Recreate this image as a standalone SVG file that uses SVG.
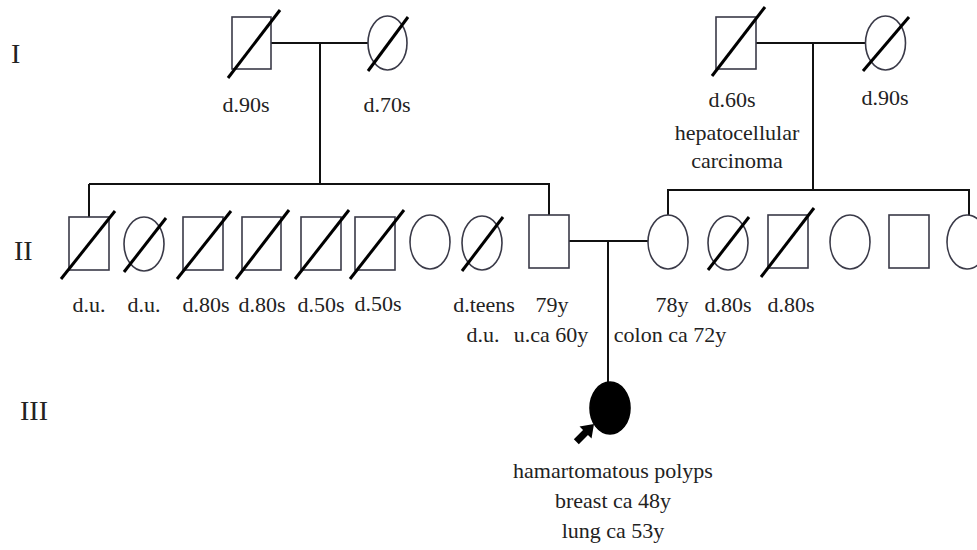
<svg xmlns="http://www.w3.org/2000/svg" width="977" height="550" viewBox="0 0 977 550">
<style>
.sym{fill:#fff;stroke:#3a3a48;stroke-width:1.6}
.aff{fill:#000;stroke:#000;stroke-width:1.6}
.dead{stroke:#000;stroke-width:3;stroke-linecap:butt}
.con{stroke:#111;stroke-width:2;fill:none}
text{font-family:"Liberation Serif","Times New Roman",serif;font-size:22px;fill:#222;text-anchor:middle}
.gen{font-size:28px;text-anchor:start}
</style>
<rect width="977" height="550" fill="#fff"/>
<g id="generations">
<text class="gen" x="11" y="63">I</text>
<text class="gen" x="14" y="260">II</text>
<text class="gen" x="20" y="420">III</text>
</g>
<g id="connectors">
<line class="con" x1="271" y1="43" x2="368" y2="43"/>
<line class="con" x1="320" y1="43" x2="320" y2="184"/>
<line class="con" x1="89" y1="184" x2="549" y2="184"/>
<line class="con" x1="89" y1="184" x2="89" y2="217"/>
<line class="con" x1="549" y1="183" x2="549" y2="215"/>
<line class="con" x1="756" y1="43" x2="865" y2="43"/>
<line class="con" x1="813" y1="43" x2="813" y2="190"/>
<line class="con" x1="668" y1="190" x2="969" y2="190"/>
<line class="con" x1="668" y1="189" x2="668" y2="215"/>
<line class="con" x1="969" y1="189" x2="969" y2="215"/>
<line class="con" x1="569" y1="241" x2="648" y2="241"/>
<line class="con" x1="608" y1="241" x2="608" y2="382"/>
</g>
<g id="I-1"><rect class="sym" x="232" y="17" width="39" height="52"/><line class="dead" x1="228" y1="78" x2="280" y2="10"/><text x="246" y="112">d.90s</text></g>
<g id="I-2"><ellipse class="sym" cx="387.5" cy="43" rx="19.5" ry="27"/><line class="dead" x1="368" y1="71" x2="408" y2="17"/><text x="387" y="112">d.70s</text></g>
<g id="I-3"><rect class="sym" x="716" y="17" width="40" height="52"/><line class="dead" x1="712" y1="76" x2="765" y2="7"/><text x="732" y="107">d.60s</text><text x="737" y="140">hepatocellular</text><text x="737" y="168">carcinoma</text></g>
<g id="I-4"><ellipse class="sym" cx="885.5" cy="43" rx="20" ry="27"/><line class="dead" x1="863" y1="71" x2="909" y2="17"/><text x="885" y="105">d.90s</text></g>
<g id="II-1"><rect class="sym" x="69" y="217" width="40" height="53"/><line class="dead" x1="61" y1="279" x2="115" y2="211"/><text x="89" y="312">d.u.</text></g>
<g id="II-2"><ellipse class="sym" cx="144" cy="244" rx="20" ry="27"/><line class="dead" x1="124" y1="272" x2="166" y2="218"/><text x="144" y="312">d.u.</text></g>
<g id="II-3"><rect class="sym" x="183" y="217" width="40" height="53"/><line class="dead" x1="177" y1="279" x2="231" y2="211"/><text x="206" y="312">d.80s</text></g>
<g id="II-4"><rect class="sym" x="242" y="217" width="39" height="53"/><line class="dead" x1="236" y1="279" x2="289" y2="210"/><text x="262" y="312">d.80s</text></g>
<g id="II-5"><rect class="sym" x="301" y="217" width="40" height="53"/><line class="dead" x1="295" y1="279" x2="349" y2="210"/><text x="321" y="312">d.50s</text></g>
<g id="II-6"><rect class="sym" x="355" y="217" width="40" height="53"/><line class="dead" x1="350" y1="279" x2="404" y2="210"/><text x="378" y="311">d.50s</text></g>
<g id="II-7"><ellipse class="sym" cx="430" cy="242" rx="20" ry="27"/></g>
<g id="II-8"><ellipse class="sym" cx="482" cy="243" rx="20" ry="27"/><line class="dead" x1="462" y1="271" x2="503" y2="217"/><text x="484" y="312">d.teens</text><text x="483" y="342">d.u.</text></g>
<g id="II-9"><rect class="sym" x="529" y="215" width="40" height="53"/><text x="552" y="312">79y</text><text x="551" y="342">u.ca 60y</text></g>
<g id="II-10"><ellipse class="sym" cx="668" cy="242" rx="20" ry="27"/><text x="672" y="312">78y</text><text x="670" y="342">colon ca 72y</text></g>
<g id="II-11"><ellipse class="sym" cx="728" cy="243" rx="20" ry="27"/><line class="dead" x1="708" y1="270" x2="749" y2="217"/><text x="728" y="312">d.80s</text></g>
<g id="II-12"><rect class="sym" x="768" y="215" width="40" height="53"/><line class="dead" x1="761" y1="277" x2="814" y2="208"/><text x="791" y="312">d.80s</text></g>
<g id="II-13"><ellipse class="sym" cx="850" cy="242" rx="20" ry="27"/></g>
<g id="II-14"><rect class="sym" x="889" y="215" width="40" height="53"/></g>
<g id="II-15"><ellipse class="sym" cx="967" cy="242" rx="20" ry="27"/></g>
<g id="III-1"><ellipse class="aff" cx="610" cy="408" rx="20" ry="26"/><path fill="#000" transform="translate(594,424) rotate(-45)" d="M0,0 L-12,-8.5 L-12,-3.5 L-25,-3.5 L-25,3.5 L-12,3.5 L-12,8.5 Z"/><text x="613" y="478">hamartomatous polyps</text><text x="613" y="508">breast ca 48y</text><text x="613" y="538">lung ca 53y</text></g>
</svg>
